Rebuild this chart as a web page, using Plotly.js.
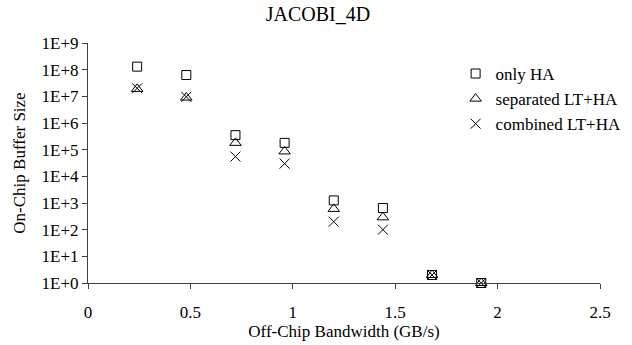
<!DOCTYPE html>
<html>
<head>
<meta charset="utf-8">
<script src="https://cdn.plot.ly/plotly-3.0.1.min.js"></script>
<style>html,body{margin:0;padding:0;background:#fff;}#chart{width:632px;height:345px;}</style>
</head>
<body>
<div id="chart"></div>
<script>
var bandwidth = [0.24, 0.48, 0.72, 0.96, 1.2, 1.44, 1.68, 1.92];
var onlyHA = [1.3e8, 6.3e7, 3.5e5, 1.8e5, 1.25e3, 650, 2, 1];
var separatedLTHA = [1.9e7, 9e6, 1.8e5, 8.6e4, 600, 290, 2, 1];
var combinedLTHA = [2e7, 9.6e6, 5.5e4, 3e4, 200, 100, 2, 1];
var seriesNames = ["only HA", "separated LT+HA", "combined LT+HA"];
var yTickVals = [1, 10, 100, 1e3, 1e4, 1e5, 1e6, 1e7, 1e8, 1e9];
var yTickText = ["1E+0","1E+1","1E+2","1E+3","1E+4","1E+5","1E+6","1E+7","1E+8","1E+9"];
var xTickVals = [0, 0.5, 1, 1.5, 2, 2.5];
var xTickText = ["0", "0.5", "1", "1.5", "2", "2.5"];

var font = "Liberation Serif, Times New Roman, serif";
var traces = [
  {x: bandwidth, y: onlyHA, name: seriesNames[0], type: "scatter", mode: "markers", cliponaxis: false,
   marker: {symbol: "square-open", size: 9, color: "#000", line: {width: 1, color: "#000"}}},
  {x: bandwidth, y: separatedLTHA, name: seriesNames[1], type: "scatter", mode: "markers", cliponaxis: false,
   marker: {symbol: "triangle-up-open", size: 10, color: "#000", line: {width: 1, color: "#000"}}},
  {x: bandwidth, y: combinedLTHA, name: seriesNames[2], type: "scatter", mode: "markers", cliponaxis: false,
   marker: {symbol: "x-thin-open", size: 10, color: "#000", line: {width: 1, color: "#000"}}}
];
var layout = {
  width: 632, height: 345,
  margin: {l: 88, r: 32, t: 43, b: 62, autoexpand: false},
  paper_bgcolor: "#fff", plot_bgcolor: "#fff",
  font: {family: font, size: 17, color: "#000"},
  title: {text: "JACOBI_4D", font: {family: font, size: 20, color: "#000"}, x: 0.503, xanchor: "center", y: 0.96, yanchor: "middle"},
  showlegend: true,
  legend: {x: 0.718, y: 0.946, xanchor: "left", yanchor: "top", bgcolor: "rgba(0,0,0,0)", font: {family: font, size: 17}, itemwidth: 30, tracegroupgap: 0},
  xaxis: {
    range: [0, 2.5], tickvals: xTickVals, ticktext: xTickText, automargin: false,
    showgrid: false, zeroline: false, showline: true, linecolor: "#404040", linewidth: 1,
    ticks: "outside", ticklen: 5, tickcolor: "#404040", ticklabelstandoff: 9,
    tickfont: {family: font, size: 17},
    title: {text: "Off-Chip Bandwidth (GB/s)", font: {family: font, size: 17}, standoff: 0}
  },
  yaxis: {
    type: "log", range: [0, 9], tickvals: yTickVals, ticktext: yTickText, automargin: false,
    showgrid: false, zeroline: false, showline: true, linecolor: "#404040", linewidth: 1,
    ticks: "outside", ticklen: 5, tickcolor: "#404040",
    tickfont: {family: font, size: 17},
    title: {text: "On-Chip Buffer Size", font: {family: font, size: 17}, standoff: 11}
  }
};
Plotly.newPlot("chart", traces, layout, {displayModeBar: false, staticPlot: true});
</script>
</body>
</html>
